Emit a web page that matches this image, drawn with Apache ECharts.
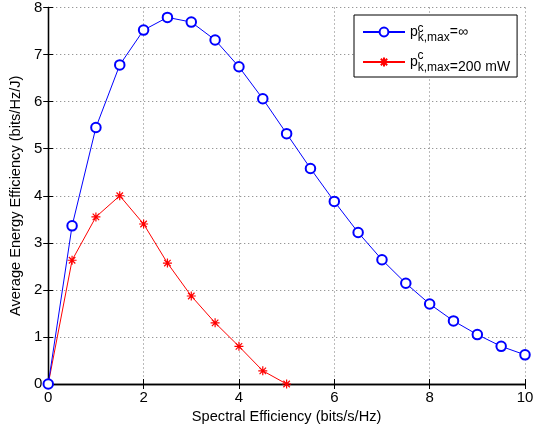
<!DOCTYPE html>
<html><head><meta charset="utf-8">
<script src="https://cdn.jsdelivr.net/npm/echarts@6/dist/echarts.min.js"></script>
<style>html,body{margin:0;padding:0;background:#fff}#c{width:545px;height:430px}</style>
</head><body><div id="c"></div>
<script>
const xValues = [0,0.5,1,1.5,2,2.5,3,3.5,4,4.5,5,5.5,6,6.5,7,7.5,8,8.5,9,9.5,10];
const blueValues = [0,3.36,5.45,6.78,7.52,7.79,7.69,7.31,6.74,6.06,5.32,4.58,3.88,3.22,2.64,2.14,1.70,1.34,1.05,0.80,0.62];
const redX = [0,0.5,1,1.5,2,2.5,3,3.5,4,4.5,5];
const redValues = [0,2.63,3.55,4.00,3.40,2.57,1.87,1.30,0.80,0.28,0];
const xTicks = [0,2,4,6,8,10];
const yTicks = [0,1,2,3,4,5,6,7,8];
const xTitle = 'Spectral Efficiency (bits/s/Hz)';
const yTitle = 'Average Energy Efficiency (bits/Hz/J)';
const legendNames = ['inf','mw'];
const legendTexts = {inf:'{eqHigh|=∞}', mw:'{eqLow|=200 mW}'};

const chart = echarts.init(document.getElementById('c'));
const font = 'Liberation Sans, Arial, sans-serif';
const star = 'path://M0,-5L0,5M-5,0L5,0M-3.6,-3.6L3.6,3.6M-3.6,3.6L3.6,-3.6';
const gridLine = {show:true, lineStyle:{color:'#777', type:[1,3], width:1}};
const axisLine = {show:true, lineStyle:{color:'#000', width:1.3}};
const tick = {show:true, inside:true, length:5, lineStyle:{color:'#000'}};
chart.setOption({
  animation:false,
  backgroundColor:'#fff',
  grid:{left:47, right:20, top:7.5, bottom:46, containLabel:false},
  xAxis:[{type:'value', min:0, max:10, interval:2, position:'bottom',
    axisLine:axisLine, axisTick:tick,
    axisLabel:{color:'#000', fontSize:15, fontFamily:font, margin:6},
    splitLine:gridLine,
    name:xTitle, nameLocation:'middle', nameGap:21, nameTextStyle:{color:'#000', fontSize:14.6, fontFamily:font}},
   {type:'value', min:0, max:10, interval:2, position:'top',
    axisLine:axisLine, axisTick:tick, axisLabel:{show:false}, splitLine:{show:false}}],
  yAxis:[{type:'value', min:0, max:8, interval:1, position:'left',
    axisLine:axisLine, axisTick:tick,
    axisLabel:{color:'#000', fontSize:15, fontFamily:font, margin:6},
    splitLine:gridLine,
    name:yTitle, nameLocation:'middle', nameGap:19, nameTextStyle:{color:'#000', fontSize:14.6, fontFamily:font}},
   {type:'value', min:0, max:8, interval:1, position:'right',
    axisLine:axisLine, axisTick:tick, axisLabel:{show:false}, splitLine:{show:false}}],
  legend:{
    left:354, top:15, orient:'vertical', padding:[10,7,3,8], itemGap:11,
    backgroundColor:'#fff', borderColor:'#000', borderWidth:1,
    itemWidth:42, itemHeight:11,
    data:legendNames,
    formatter: n => '{p|p}{sub|k,max}' + legendTexts[n],
    textStyle:{color:'#000', fontFamily:font, fontSize:14,
      rich:{p:{fontSize:14, fontFamily:font, color:'#000'},
            sub:{fontSize:12, fontFamily:font, color:'#000', padding:[12,0,0,0]},
            eqHigh:{fontSize:14, fontFamily:font, color:'#000'},
            eqLow:{fontSize:14, fontFamily:font, color:'#000', padding:[10,0,0,0]}}}
  },
  graphic:[
    {type:'text', left:417.5, top:23, style:{text:'c', fontSize:12, fontFamily:font, fill:'#000'}, z:100},
    {type:'text', left:417.5, top:50, style:{text:'c', fontSize:12, fontFamily:font, fill:'#000'}, z:100}
  ],
  series:[
    {name:'inf', type:'line', data:xValues.map((x,i)=>[x,blueValues[i]]),
     symbol:'emptyCircle', symbolSize:9.5, showAllSymbol:true,
     lineStyle:{color:'#0000ff', width:1}, itemStyle:{color:'#0000ff', borderColor:'#0000ff', borderWidth:0.9}, z:3},
    {name:'mw', type:'line', data:redX.map((x,i)=>[x,redValues[i]]),
     symbol:star, symbolSize:9, showAllSymbol:true,
     lineStyle:{color:'#ff0000', width:1}, itemStyle:{color:'#ff0000', borderColor:'#ff0000', borderWidth:1.2}, z:2}
  ]
});
</script></body></html>
